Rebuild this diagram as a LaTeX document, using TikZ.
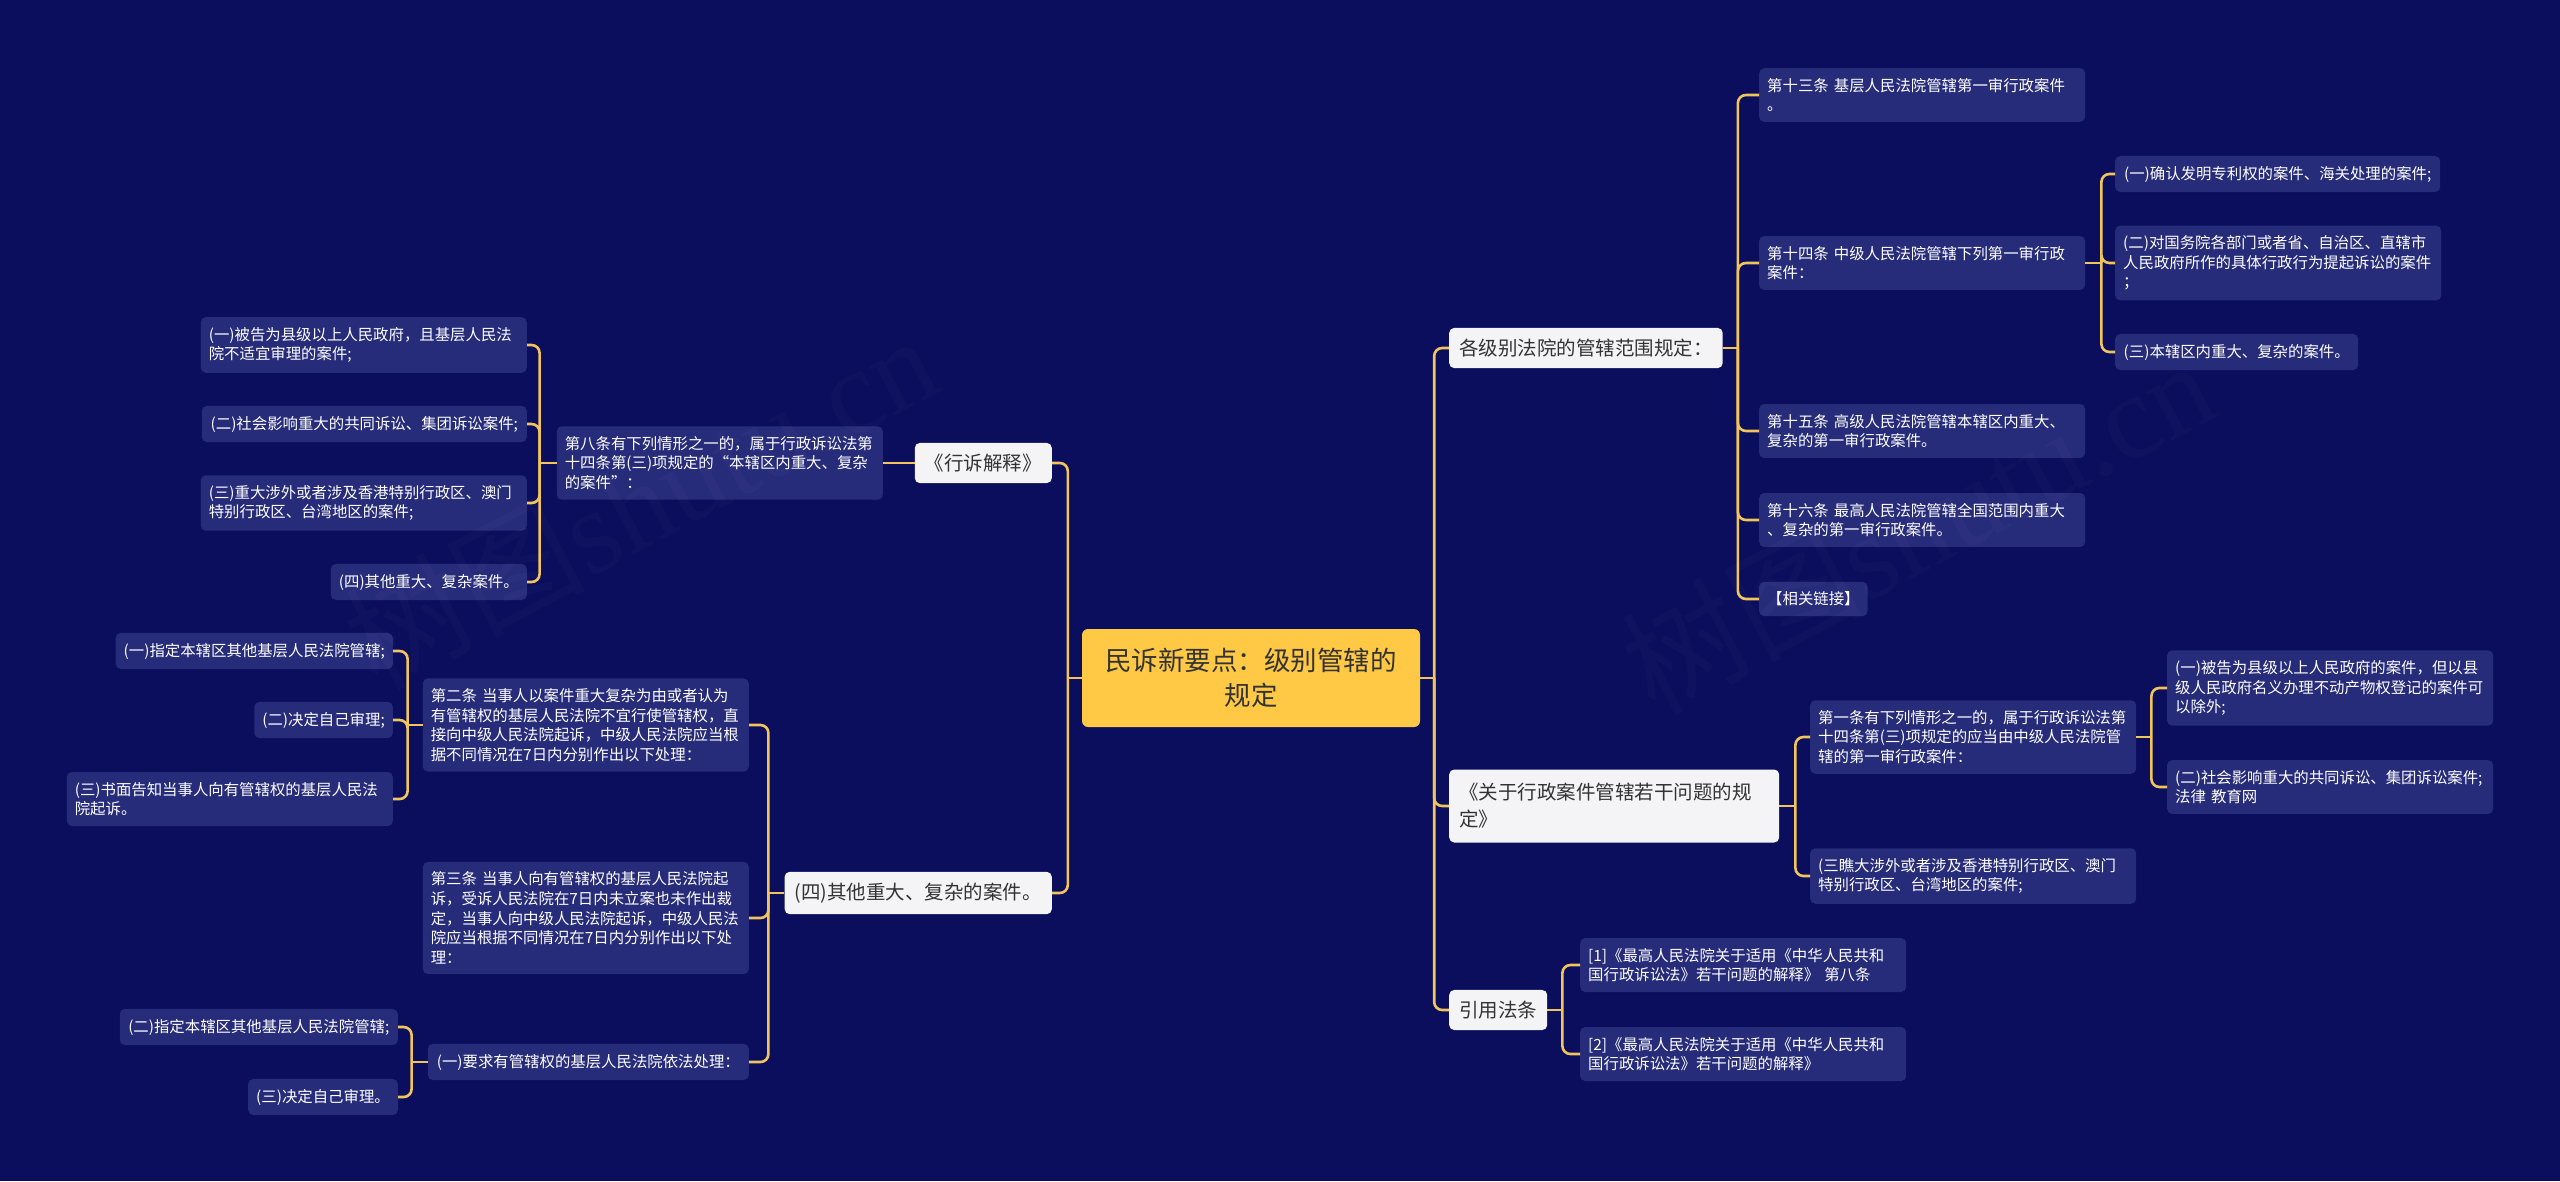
\documentclass[tikz,border=0pt]{standalone}
\usepackage{fontspec}
\setmainfont{Noto Sans CJK SC}
\newfontfamily\wmlatin{Liberation Serif}
\usetikzlibrary{calc}
\definecolor{bgc}{HTML}{0A0E5C}
\definecolor{leafc}{HTML}{262B7A}
\definecolor{linec}{HTML}{F2C55C}
\definecolor{lonec}{HTML}{F4F4F6}
\definecolor{rootc}{HTML}{FFC845}
\definecolor{darktxt}{HTML}{333333}
\tikzset{
 conn/.style={draw=linec, line width=2.6pt, rounded corners=8pt},
 leafbox/.style={fill=leafc, rounded corners=5pt, text=white, font=\fontsize{15.4}{19.6}\selectfont, align=left, inner xsep=8pt, inner ysep=10pt},
 leafw/.style={leafbox, text width=310pt},
 lvlone/.style={fill=lonec, rounded corners=5pt, text=darktxt, font=\fontsize{19.5}{27}\selectfont, align=left, inner xsep=10pt, inner ysep=11pt},
 rootbox/.style={fill=rootc, rounded corners=6pt, text=darktxt, font=\fontsize{26.5}{35}\selectfont, align=center, minimum width=338pt, minimum height=98pt},
 wm/.style={text=white, opacity=0.025, rotate=28, font=\fontsize{120}{120}\selectfont}
}
\begin{document}
\begin{tikzpicture}[x=1pt,y=-1pt]
\fill[bgc] (0,0) rectangle (2560,1181);
\useasboundingbox (0,0) rectangle (2560,1181);

% root
\node[rootbox] (root) at (1251,678) {民诉新要点：级别管辖的\\规定};

% right level one
\node[lvlone, anchor=west] (A) at (1449,348) {各级别法院的管辖范围规定：};
\node[lvlone, anchor=west, text width=310pt, minimum height=73pt] (B) at (1449,806) {《关于行政案件管辖若干问题的规\\定》};
\node[lvlone, anchor=west] (C) at (1449,1010) {引用法条};

% A children
\node[leafw, anchor=west] (a1) at (1759,95) {第十三条 基层人民法院管辖第一审行政案件\\。};
\node[leafw, anchor=west] (a2) at (1759,263) {第十四条 中级人民法院管辖下列第一审行政\\案件：};
\node[leafw, anchor=west] (a3) at (1759,431) {第十五条 高级人民法院管辖本辖区内重大、\\复杂的第一审行政案件。};
\node[leafw, anchor=west] (a4) at (1759,520) {第十六条 最高人民法院管辖全国范围内重大\\、复杂的第一审行政案件。};
\node[leafbox, anchor=west, minimum width=108pt] (a5) at (1759,599) {【相关链接】};

% a2 children
\node[leafbox, anchor=west, minimum width=325pt] (a21) at (2115,174) {(一)确认发明专利权的案件、海关处理的案件;};
\node[leafw, anchor=west] (a22) at (2115,263) {(二)对国务院各部门或者省、自治区、直辖市\\人民政府所作的具体行政行为提起诉讼的案件\\；};
\node[leafbox, anchor=west, minimum width=243pt] (a23) at (2115,352) {(三)本辖区内重大、复杂的案件。};

% B children
\node[leafw, anchor=west] (b1) at (1810,737) {第一条有下列情形之一的，属于行政诉讼法第\\十四条第(三)项规定的应当由中级人民法院管\\辖的第一审行政案件：};
\node[leafw, anchor=west] (b2) at (1810,876) {(三瞧大涉外或者涉及香港特别行政区、澳门\\特别行政区、台湾地区的案件;};
\node[leafw, anchor=west] (b11) at (2167,688) {(一)被告为县级以上人民政府的案件，但以县\\级人民政府名义办理不动产物权登记的案件可\\以除外;};
\node[leafw, anchor=west] (b12) at (2167,787) {(二)社会影响重大的共同诉讼、集团诉讼案件;\\法律 教育网};

% C children
\node[leafw, anchor=west] (c1) at (1580,965) {[1]《最高人民法院关于适用《中华人民共和\\国行政诉讼法》若干问题的解释》 第八条};
\node[leafw, anchor=west] (c2) at (1580,1054) {[2]《最高人民法院关于适用《中华人民共和\\国行政诉讼法》若干问题的解释》};

% left level one
\node[lvlone, anchor=east] (L1) at (1052,463) {《行诉解释》};
\node[lvlone, anchor=east] (L2) at (1052,893) {(四)其他重大、复杂的案件。};

% L1 child
\node[leafw, anchor=east] (l1) at (883,463) {第八条有下列情形之一的，属于行政诉讼法第\\十四条第(三)项规定的“本辖区内重大、复杂\\的案件”：};
\node[leafw, anchor=east] (l11) at (527,345) {(一)被告为县级以上人民政府，且基层人民法\\院不适宜审理的案件;};
\node[leafbox, anchor=east, minimum width=325pt] (l12) at (527,424) {(二)社会影响重大的共同诉讼、集团诉讼案件;};
\node[leafw, anchor=east] (l13) at (527,503) {(三)重大涉外或者涉及香港特别行政区、澳门\\特别行政区、台湾地区的案件;};
\node[leafbox, anchor=east, minimum width=196pt] (l14) at (527,582) {(四)其他重大、复杂案件。};

% L2 children
\node[leafw, anchor=east] (l21) at (749,725) {第二条 当事人以案件重大复杂为由或者认为\\有管辖权的基层人民法院不宜行使管辖权，直\\接向中级人民法院起诉，中级人民法院应当根\\据不同情况在7日内分别作出以下处理：};
\node[leafw, anchor=east] (l22) at (749,918) {第三条 当事人向有管辖权的基层人民法院起\\诉，受诉人民法院在7日内未立案也未作出裁\\定，当事人向中级人民法院起诉，中级人民法\\院应当根据不同情况在7日内分别作出以下处\\理：};
\node[leafbox, anchor=east, minimum width=321pt] (l23) at (749,1062) {(一)要求有管辖权的基层人民法院依法处理：};

\node[leafbox, anchor=east, minimum width=277pt] (l211) at (393,651) {(一)指定本辖区其他基层人民法院管辖;};
\node[leafbox, anchor=east, minimum width=137pt] (l212) at (393,720) {(二)决定自己审理;};
\node[leafw, anchor=east] (l213) at (393,799) {(三)书面告知当事人向有管辖权的基层人民法\\院起诉。};

\node[leafbox, anchor=east, minimum width=278pt] (l231) at (398,1027) {(二)指定本辖区其他基层人民法院管辖;};
\node[leafbox, anchor=east, minimum width=149pt] (l232) at (398,1097) {(三)决定自己审理。};

% connectors right
\coordinate (jR) at ($(root.east)+(14,0)$);
\draw[conn] (root.east) -- (jR);
\foreach \c in {A,B,C} \draw[conn] (jR) |- (\c.west);

\coordinate (jA) at ($(A.east)+(15,0)$);
\draw[conn] (A.east) -- (jA);
\foreach \c in {a1,a2,a3,a4,a5} \draw[conn] (jA) |- (\c.west);

\coordinate (ja2) at ($(a2.east)+(16,0)$);
\draw[conn] (a2.east) -- (ja2);
\foreach \c in {a21,a22,a23} \draw[conn] (ja2) |- (\c.west);

\coordinate (jB) at ($(B.east)+(16,0)$);
\draw[conn] (B.east) -- (jB);
\foreach \c in {b1,b2} \draw[conn] (jB) |- (\c.west);

\coordinate (jb1) at ($(b1.east)+(15,0)$);
\draw[conn] (b1.east) -- (jb1);
\foreach \c in {b11,b12} \draw[conn] (jb1) |- (\c.west);

\coordinate (jC) at ($(C.east)+(15,0)$);
\draw[conn] (C.east) -- (jC);
\foreach \c in {c1,c2} \draw[conn] (jC) |- (\c.west);

% connectors left
\coordinate (jL) at ($(root.west)+(-14,0)$);
\draw[conn] (root.west) -- (jL);
\foreach \c in {L1,L2} \draw[conn] (jL) |- (\c.east);

\draw[conn] (L1.west) -- (l1.east);

\coordinate (jl1) at ($(l1.west)+(-17,0)$);
\draw[conn] (l1.west) -- (jl1);
\foreach \c in {l11,l12,l13,l14} \draw[conn] (jl1) |- (\c.east);

\coordinate (jL2) at ($(L2.west)+(-16,0)$);
\draw[conn] (L2.west) -- (jL2);
\foreach \c in {l21,l22,l23} \draw[conn] (jL2) |- (\c.east);

\coordinate (jl21) at ($(l21.west)+(-15,0)$);
\draw[conn] (l21.west) -- (jl21);
\foreach \c in {l211,l212,l213} \draw[conn] (jl21) |- (\c.east);

\coordinate (jl23) at ($(l23.west)+(-16,0)$);
\draw[conn] (l23.west) -- (jl23);
\foreach \c in {l231,l232} \draw[conn] (jl23) |- (\c.east);

% watermark
\node[wm] (wmone) at (640,500) {树图{\wmlatin shutu.cn}};
\node[wm] (wmtwo) at (1917,525) {树图{\wmlatin shutu.cn}};
\end{tikzpicture}
\end{document}
